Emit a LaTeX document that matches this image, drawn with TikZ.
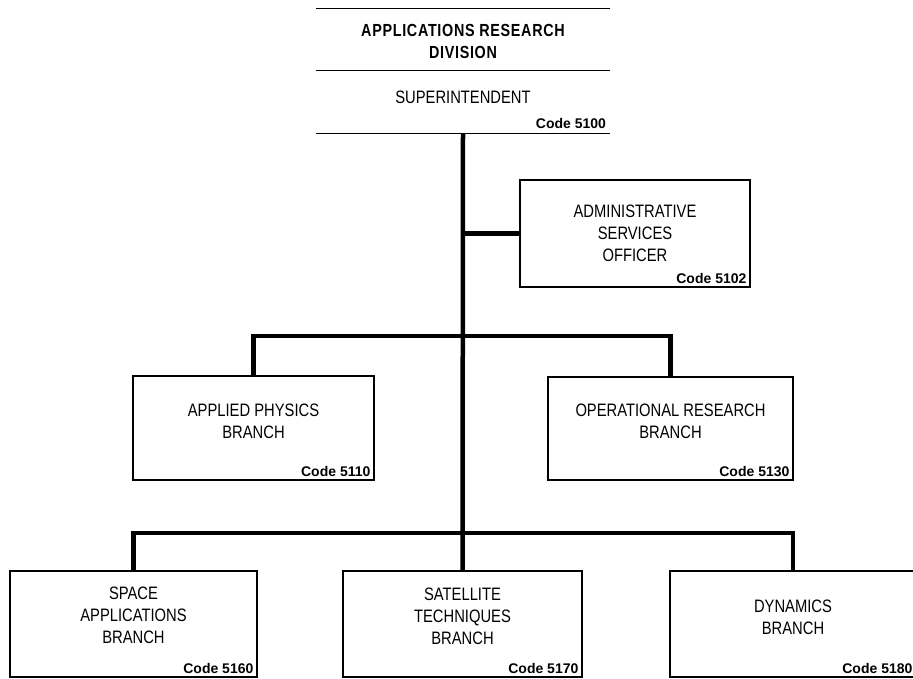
\documentclass[tikz,border=0pt]{standalone}
\usepackage{fontspec}
\usepackage{tikz}
\newfontfamily\orgfont[FakeStretch=0.82]{Liberation Sans}
\newfontfamily\titlefont[FakeStretch=0.82, LetterSpace=4]{Liberation Sans}
\newfontfamily\codefont{Liberation Sans}

\begin{document}
\begin{tikzpicture}[x=1pt, y=-1pt,
  unitbox/.style={draw, line width=1.2pt, inner sep=0pt},
  headbox/.style={inner sep=0pt, minimum width=294pt},
  unitname/.style={align=center, inner sep=0pt, font=\orgfont\fontsize{18}{22}\selectfont},
  unitcode/.style={anchor=south east, inner xsep=4pt, inner ysep=4pt, font=\codefont\bfseries\fontsize{14}{16}\selectfont},
  link/.style={line width=4.5pt}]
\useasboundingbox (0,0) rectangle (913,678);
\clip (0,0) rectangle (913,678);

\node[headbox, minimum height=61pt] (div) at (463,39.5) {};
\node[headbox, minimum height=63pt] (sup) at (463,101.5) {};
\draw[line width=1.2pt] (div.north west) -- (div.north east) (div.south west) -- (div.south east) (sup.south west) -- (sup.south east);
\node[unitname, font=\titlefont\bfseries\fontsize{17.5}{22}\selectfont] (divname) at (463,41) {APPLICATIONS RESEARCH\\DIVISION};
\node[unitname] (supname) at (463,97) {SUPERINTENDENT};
\node[unitcode] (supcode) at (sup.south east) {Code 5100};

\node[unitbox, minimum width=230pt, minimum height=107pt] (adm) at (635,233.5) {};
\node[unitname] (admname) at (635,233) {ADMINISTRATIVE\\SERVICES\\OFFICER};
\node[unitcode] (admcode) at (adm.south east) {Code 5102};

\node[unitbox, minimum width=241pt, minimum height=104pt] (app) at (253.5,428) {};
\node[unitname] (appname) at (253.5,421) {APPLIED PHYSICS\\BRANCH};
\node[unitcode] (appcode) at (app.south east) {Code 5110};

\node[unitbox, minimum width=245pt, minimum height=103pt] (ops) at (670.5,428.5) {};
\node[unitname] (opsname) at (670.5,421) {OPERATIONAL RESEARCH\\BRANCH};
\node[unitcode] (opscode) at (ops.south east) {Code 5130};

\node[unitbox, minimum width=247pt, minimum height=106pt] (spc) at (133.5,624) {};
\node[unitname] (spcname) at (133.5,615) {SPACE\\APPLICATIONS\\BRANCH};
\node[unitcode] (spccode) at (spc.south east) {Code 5160};

\node[unitbox, minimum width=239pt, minimum height=106pt] (sat) at (462.5,624) {};
\node[unitname] (satname) at (462.5,616) {SATELLITE\\TECHNIQUES\\BRANCH};
\node[unitcode] (satcode) at (sat.south east) {Code 5170};

\node[unitbox, minimum width=246pt, minimum height=106pt] (dyn) at (793,624) {};
\node[unitname] (dynname) at (793,617) {DYNAMICS\\BRANCH};
\node[unitcode] (dyncode) at (dyn.south east) {Code 5180};

\coordinate (midbar) at (463,336);
\coordinate (lowbar) at (463,533);
\draw[link] (sup.south) -- (sat.north);
\draw[link] (sup.south |- adm.west) -- (adm.west);
\draw[link] (app.north) |- (midbar) -| (ops.north);
\draw[link] (spc.north) |- (lowbar) -| (dyn.north);
\end{tikzpicture}
\end{document}
